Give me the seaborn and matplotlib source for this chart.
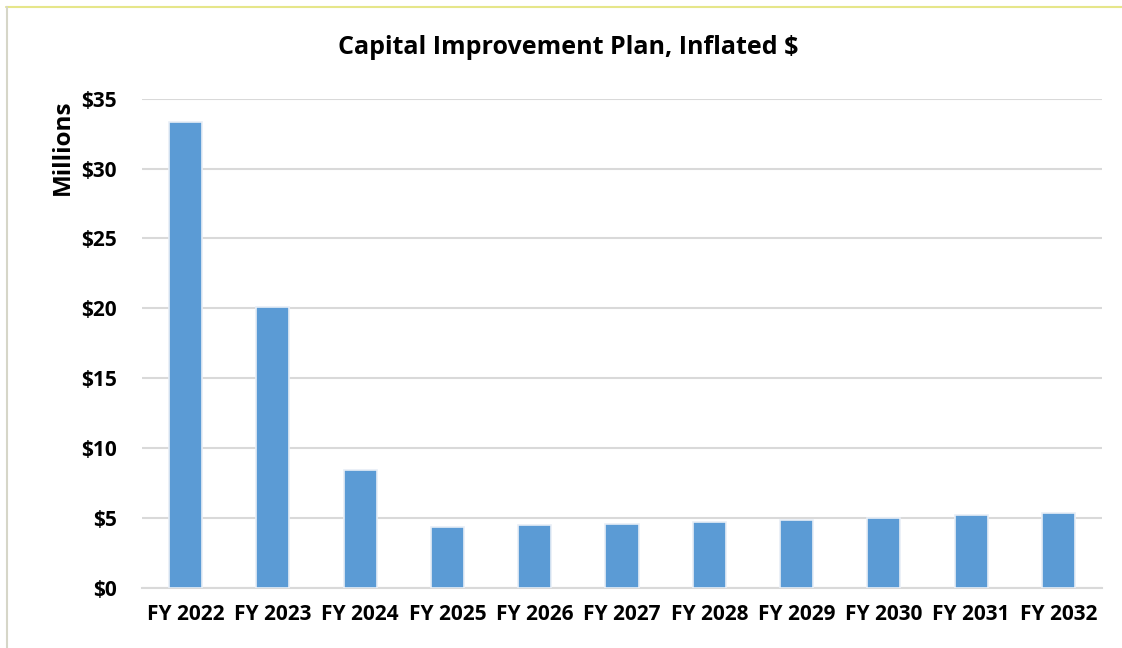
import matplotlib
matplotlib.use("Agg")
import matplotlib.pyplot as plt
import seaborn as sns
import pandas as pd
from matplotlib.ticker import FuncFormatter, MultipleLocator

years = ["FY 2022", "FY 2023", "FY 2024", "FY 2025", "FY 2026", "FY 2027",
         "FY 2028", "FY 2029", "FY 2030", "FY 2031", "FY 2032"]
values = [33.3, 20.05, 8.42, 4.32, 4.45, 4.58, 4.71, 4.86, 4.99, 5.2, 5.34]

df = pd.DataFrame({"year": years, "value": values})

sns.set_theme(style="white")
plt.rcParams['font.family'] = ['Open Sans', 'DejaVu Sans']

fig = plt.figure(figsize=(11.22, 6.48), dpi=100)
ax = fig.add_axes([142/1122, 1-587.5/648, 960/1122, (587.5-98.7)/648])

sns.barplot(data=df, x="year", y="value", color="#5B9BD5", width=0.38,
            edgecolor="#E8EEF6", linewidth=1.2, saturation=1, ax=ax, zorder=3)

ax.set_ylim(0, 35)
ax.set_xlim(-0.5, len(years) - 0.5)
ax.yaxis.set_major_locator(MultipleLocator(5))
ax.yaxis.set_major_formatter(FuncFormatter(lambda v, p: f"${int(v)}"))
ax.grid(axis="y", color="#D9D9D9", linewidth=1.5, zorder=0)
for s in ["top", "right", "left"]:
    ax.spines[s].set_visible(False)
ax.spines["bottom"].set_color("#D9D9D9")
ax.spines["bottom"].set_linewidth(1.5)
ax.tick_params(axis="both", length=0, labelsize=15, labelcolor="black")
ax.tick_params(axis="x", pad=12)
ax.tick_params(axis="y", pad=18)
for lbl in ax.get_xticklabels() + ax.get_yticklabels():
    lbl.set_fontweight("bold")
ax.set_xlabel("")
ax.set_ylabel("Millions", fontsize=17.5, fontweight="bold", color="black")
ax.yaxis.set_label_coords(-67/960, 1 - (147-98.7)/(587.5-98.7))

fig.text(568/1122, 1-48/648, "Capital Improvement Plan, Inflated $", ha="center",
         va="center", fontsize=18, fontweight="bold", color="black")

# frame lines
fig.add_artist(plt.Line2D([6/1122, 1], [1-6.5/648, 1-6.5/648], color="#E6E68A", linewidth=1.5))
fig.add_artist(plt.Line2D([6.5/1122, 6.5/1122], [0, 1-6.5/648], color="#D6D6C8", linewidth=1.5))

fig.savefig("out.png", dpi=100)
